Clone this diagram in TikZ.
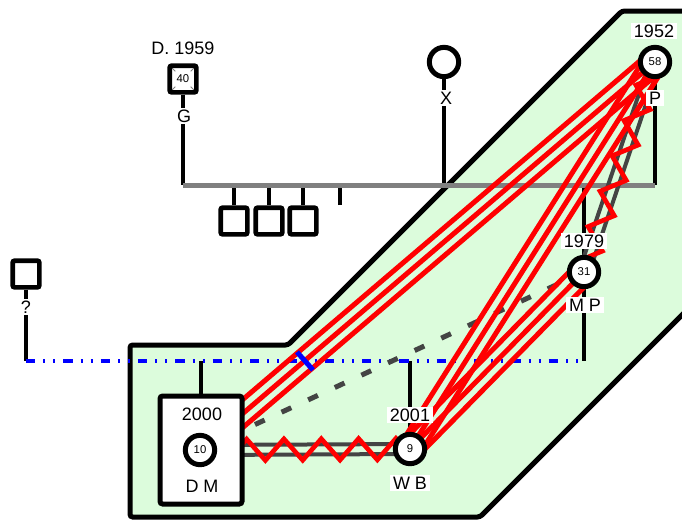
\documentclass[tikz,border=0pt]{standalone}
\usepackage{fontspec}
\setmainfont{Liberation Sans}
\usetikzlibrary{calc,decorations.pathmorphing}

\definecolor{famgreen}{HTML}{DCFCDC}
\definecolor{relgray}{HTML}{444444}
\definecolor{linegray}{HTML}{808080}

\pgfdeclarelayer{back}
\pgfdeclarelayer{edges}
\pgfsetlayers{back,edges,main}

\tikzset{
  male/.style={draw,rectangle,line width=3.5pt,rounded corners=1.5pt,minimum size=20pt,inner sep=0pt,fill=white,font=\fontsize{8.5}{9}\selectfont},
  female/.style={draw,circle,line width=3.75pt,minimum size=22pt,inner sep=0pt,fill=white,font=\fontsize{8.5}{9}\selectfont},
  dead/.style={path picture={
      \foreach \c in {north west,north east,south west,south east}
        \draw[gray,line width=0.6pt] (path picture bounding box.\c) -- ($(path picture bounding box.\c)!0.42!(path picture bounding box.center)$);
    }},
  lbl/.style={fill=white,inner xsep=2pt,inner ysep=1.5pt,font=\fontsize{13.5}{15}\selectfont},
  kin/.style={line width=3pt},
  union/.style={linegray,line width=3.75pt},
  sibline/.style={blue,line width=3.5pt,dash pattern=on 7pt off 6pt on 1.5pt off 6pt on 1.5pt off 6pt},
  distant/.style={relgray,line width=3.75pt,dash pattern=on 8pt off 14pt},
  bond/.style={relgray,line width=3pt},
  fused/.style={red,line width=3.75pt},
  hostile/.style={red,line width=3.5pt,decorate,decoration={zigzag,segment length=28pt,amplitude=8pt}},
  cutmark/.style={blue,line width=3.75pt}
}

\begin{document}
\begin{tikzpicture}[x=0.75pt,y=-0.75pt]
  \clip (0,0) rectangle (682,519);

  % Household
  \begin{pgfonlayer}{back}
    \draw[fill=famgreen,line width=3.75pt,rounded corners=2pt]
      (130,517) -- (130,345) -- (288,345) -- (622,11) -- (690,11) -- (690,307) -- (480,517) -- cycle;
  \end{pgfonlayer}

  % People
  \node[male,dead] (G) at (183,79) {40};
  \node[female] (X) at (444,62) {};
  \node[female] (P) at (655,62) {58};
  \node[female] (MP) at (584,272) {31};
  \node[male] (Q) at (26,274) {};
  \node[male] (C1) at (234,221) {};
  \node[male] (C2) at (269,221) {};
  \node[male] (C3) at (303,221) {};
  \coordinate (C4) at (340,205);
  \node[draw,line width=3.75pt,rounded corners=2pt,minimum width=61.5pt,minimum height=81pt,fill=white] (DMbox) at (201,450) {};
  \node[female] (DM) at (200,450) {10};
  \node[female] (WB) at (410,449) {9};

  % Labels
  \node[lbl] (Gyr) at (183,48) {D. 1959};
  \node[lbl] (Gname) at (184,116) {G};
  \node[lbl] (Xname) at (446,98) {X};
  \node[lbl] (Pyr) at (654,31) {1952};
  \node[lbl] (Pname) at (655,98) {P};
  \node[lbl] (MPyr) at (584,241) {1979};
  \node[lbl] (MPname) at (585,305) {M P};
  \node[lbl] (Qname) at (26,307) {?};
  \node[lbl] (DMyr) at (202,414) {2000};
  \node[lbl] (DMname) at (202,486) {D M};
  \node[lbl] (WByr) at (410,415) {2001};
  \node[lbl] (WBname) at (410,483) {W B};

  \coordinate (Gm) at (183,185);
  \coordinate (Pm) at (655,185);
  \coordinate (Qb) at (26,361);
  \coordinate (MPb) at (584,361);
  \coordinate (cut) at (305,361);

  \begin{pgfonlayer}{edges}
    % Family lines
    \draw[kin] (G) -- (Gm);
    \draw[kin] (X) -- (X |- Gm);
    \draw[kin] (P) -- (Pm);
    \draw[kin] (MP) -- (MP |- Gm);
    \foreach \c in {C1,C2,C3,C4}
      \draw[kin] (\c) -- (\c |- Gm);
    \draw[union] (Gm) -- (Pm);
    \draw[kin] (Q) -- (Qb);
    \draw[kin] (MP) -- (MPb);
    \draw[kin] (DMbox) -- (DMbox |- Qb);
    \draw[kin] (WB) -- (WB |- Qb);
    \draw[sibline] (Qb) -- (MPb);

    % Relationships
    \draw[distant] (MP.center) -- (DM.center);
    \foreach \s in {-3.75pt,3.75pt} {
      \draw[bond] ($(P.center)!\s!90:(MP.center)$) -- ($(MP.center)!\s!-90:(P.center)$);
      \draw[bond] ($(DM.center)!\s!90:(WB.center)$) -- ($(WB.center)!\s!-90:(DM.center)$);
    }
    \foreach \a/\b in {P/DM,P/WB,MP/WB}
      \foreach \s in {-8pt,0pt,8pt}
        \draw[fused] ($(\a.center)!\s!90:(\b.center)$) -- ($(\b.center)!\s!-90:(\a.center)$);
    \draw[hostile] (P.center) -- (MP.center);
    \draw[hostile] (DM.center) -- (WB.center);
    \draw[cutmark] ($(cut)+(-8,-9)$) -- ($(cut)+(8,9)$);
  \end{pgfonlayer}
\end{tikzpicture}
\end{document}
